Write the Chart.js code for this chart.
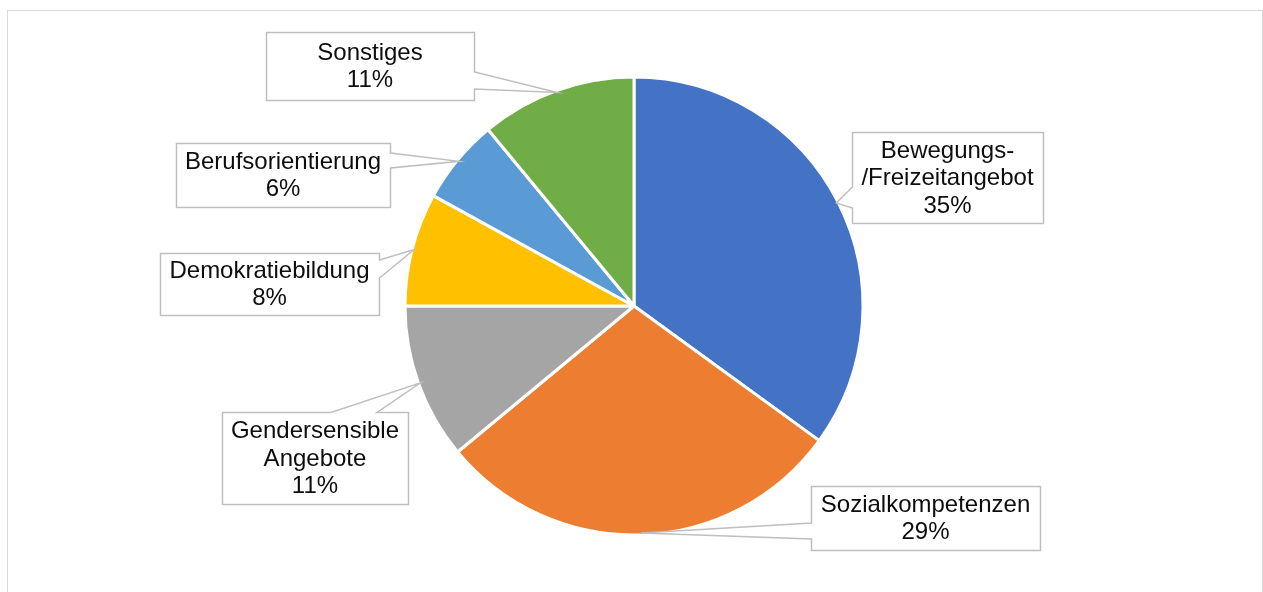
<!DOCTYPE html>
<html>
<head>
<meta charset="utf-8">
<script src="https://cdn.jsdelivr.net/npm/chart.js@4.4.1/dist/chart.umd.min.js"></script>
<style>
  html, body { margin: 0; padding: 0; background: #fff; overflow: hidden; }
  #frame { position: absolute; left: 7px; top: 10px; width: 1256px; height: 600px; border: 1px solid #d9d9d9; box-sizing: border-box; }
  #wrap { position: absolute; left: 0; top: 0; width: 1263px; height: 592px; }
</style>
</head>
<body>
<div id="frame"></div>
<div id="wrap"><canvas id="pie"></canvas></div>
<script>
// categories (multi-line labels as shown in the callouts)
const CATEGORIES = [
  ['Bewegungs-', '/Freizeitangebot'],
  ['Sozialkompetenzen'],
  ['Gendersensible', 'Angebote'],
  ['Demokratiebildung'],
  ['Berufsorientierung'],
  ['Sonstiges'],
];
const SHARES = [35, 29, 11, 8, 6, 11];
const COLORS = ['#4472C4', '#ED7D31', '#A5A5A5', '#FFC000', '#5B9BD5', '#70AD47'];

// callout boxes: box rect, side the pointer leaves from, pointer base along that side
const CALLOUTS = [
  { x: 852, y: 132, w: 191, h: 91, side: 'left',  a: 187, b: 208 },
  { x: 811, y: 486, w: 229, h: 64, side: 'left',  a: 523, b: 539 },
  { x: 222, y: 412, w: 186, h: 92, side: 'top',   a: 331, b: 377 },
  { x: 160, y: 253, w: 219, h: 62, side: 'right', a: 260, b: 278 },
  { x: 176, y: 143, w: 214, h: 64, side: 'right', a: 153, b: 168 },
  { x: 266, y: 32,  w: 208, h: 68, side: 'right', a: 72,  b: 89 },
];

const calloutPlugin = {
  id: 'callouts',
  afterDatasetsDraw(chart) {
    const ctx = chart.ctx;
    const arcs = chart.getDatasetMeta(0).data;
    ctx.save();
    arcs.forEach((arc, i) => {
      const c = CALLOUTS[i];
      const p = arc.getProps(['x', 'y', 'startAngle', 'endAngle', 'outerRadius'], true);
      const mid = (p.startAngle + p.endAngle) / 2;
      const r = p.outerRadius - 2;
      const tx = p.x + Math.cos(mid) * r;
      const ty = p.y + Math.sin(mid) * r;
      const x0 = c.x + 0.5, y0 = c.y + 0.5, x1 = c.x + c.w + 0.5, y1 = c.y + c.h + 0.5;

      ctx.beginPath();
      ctx.moveTo(x0, y0);
      if (c.side === 'top') { ctx.lineTo(c.a, y0); ctx.lineTo(tx, ty); ctx.lineTo(c.b, y0); }
      ctx.lineTo(x1, y0);
      if (c.side === 'right') { ctx.lineTo(x1, c.a); ctx.lineTo(tx, ty); ctx.lineTo(x1, c.b); }
      ctx.lineTo(x1, y1);
      if (c.side === 'bottom') { ctx.lineTo(c.b, y1); ctx.lineTo(tx, ty); ctx.lineTo(c.a, y1); }
      ctx.lineTo(x0, y1);
      if (c.side === 'left') { ctx.lineTo(x0, c.b); ctx.lineTo(tx, ty); ctx.lineTo(x0, c.a); }
      ctx.closePath();
      ctx.fillStyle = '#ffffff';
      ctx.fill();
      ctx.strokeStyle = '#bfbfbf';
      ctx.lineWidth = 1.5;
      ctx.lineJoin = 'miter';
      ctx.stroke();

      const lines = [...CATEGORIES[i], SHARES[i] + '%'];
      const lh = 27.6;
      const cx = c.x + c.w / 2;
      const cy = c.y + c.h / 2 + 1;
      ctx.fillStyle = '#0d0d0d';
      ctx.font = '24px "Liberation Sans", Arial, sans-serif';
      ctx.textAlign = 'center';
      ctx.textBaseline = 'middle';
      lines.forEach((t, k) => {
        ctx.fillText(t, cx, cy + (k - (lines.length - 1) / 2) * lh);
      });
    });
    ctx.restore();
  }
};

new Chart(document.getElementById('pie'), {
  type: 'pie',
  data: {
    labels: CATEGORIES,
    datasets: [{
      data: SHARES,
      backgroundColor: COLORS,
      borderColor: '#ffffff',
      borderWidth: 3,
      hoverOffset: 0,
    }],
  },
  options: {
    responsive: true,
    maintainAspectRatio: false,
    animation: false,
    radius: 229,
    layout: { padding: { left: 5, right: 0, top: 20, bottom: 0 } },
    plugins: {
      legend: { display: false },
      tooltip: { enabled: false },
    },
  },
  plugins: [calloutPlugin],
});
</script>
</body>
</html>
